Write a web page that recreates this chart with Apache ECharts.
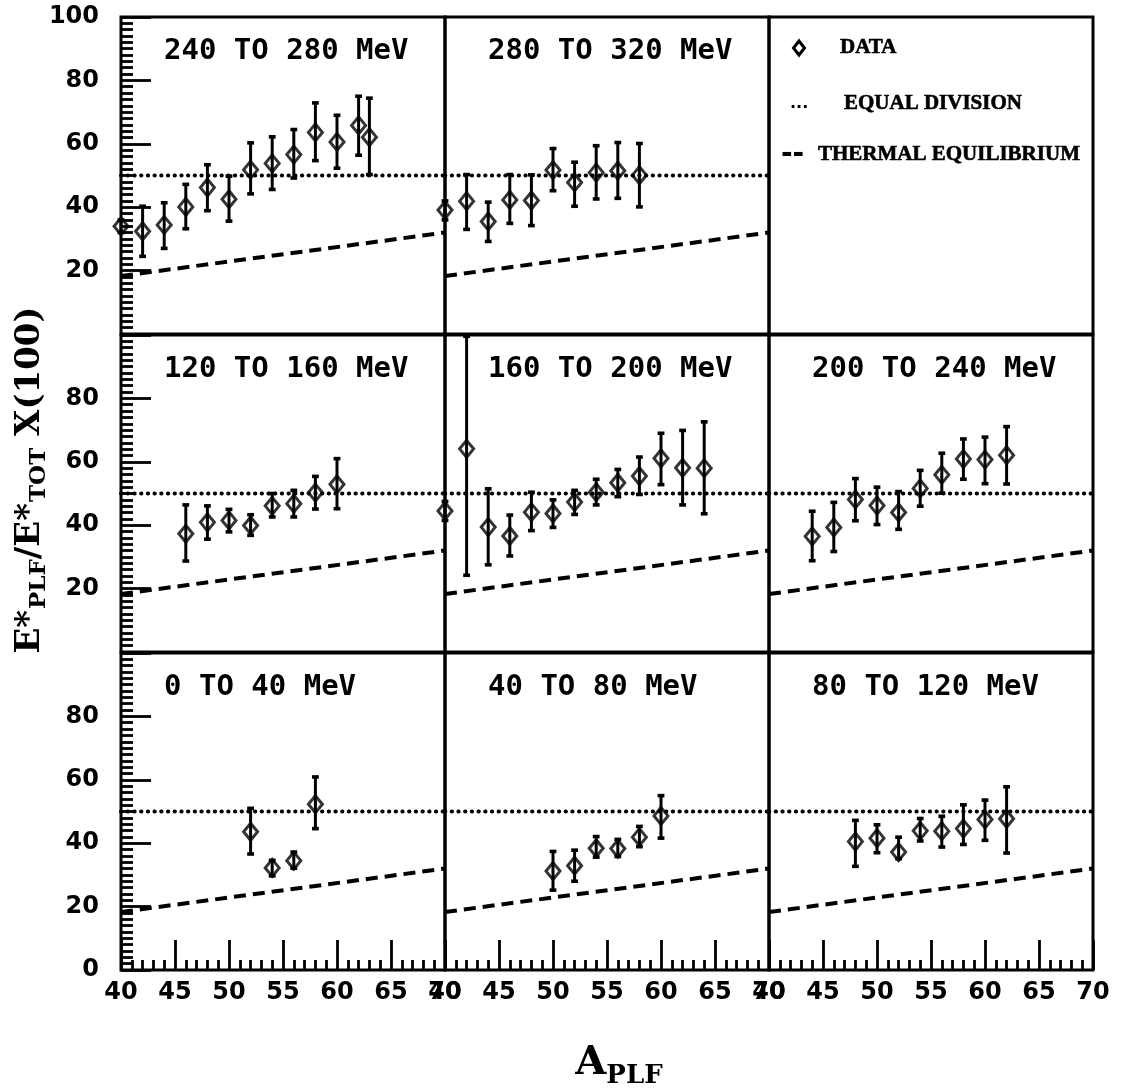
<!DOCTYPE html>
<html><head><meta charset="utf-8">
<script src="https://cdn.jsdelivr.net/npm/echarts/dist/echarts.min.js"></script>
<style>html,body{margin:0;padding:0;background:#fff}#c{width:1121px;height:1092px}</style>
</head><body><div id="c"></div>
<script>
// ---------------- DATA ----------------
// panel titles (row-major, top-left to bottom-right); index 2 is the legend panel
const panelTitles = ['240 TO 280 MeV', '280 TO 320 MeV', null,
                     '120 TO 160 MeV', '160 TO 200 MeV', '200 TO 240 MeV',
                     '0 TO 40 MeV', '40 TO 80 MeV', '80 TO 120 MeV'];
const xTickValues = [40, 45, 50, 55, 60, 65, 70];
const yTickValues = [0, 20, 40, 60, 80, 100];

// 240 TO 280 MeV
const A_240 = [40, 42, 44, 46, 48, 50, 52, 54, 56, 58, 60, 62, 63];
const V_240 = [34.0, 32.4, 34.4, 40.1, 46.2, 42.5, 51.8, 53.8, 56.6, 63.6, 60.6, 65.8, 62.1];
const LO_240 = [32.0, 24.5, 27.0, 33.2, 38.9, 35.6, 44.2, 45.6, 49.2, 54.7, 52.3, 56.4, 50.3];
const HI_240 = [36.0, 40.3, 41.4, 47.2, 53.4, 49.8, 60.3, 62.2, 64.5, 72.9, 69.0, 75.0, 74.4];
// 280 TO 320 MeV
const A_280 = [40, 42, 44, 46, 48, 50, 52, 54, 56, 58];
const V_280 = [39.1, 41.9, 35.5, 42.3, 42.1, 51.7, 47.8, 50.9, 51.5, 50.1];
const LO_280 = [36.0, 33.0, 29.2, 34.9, 34.2, 45.2, 40.3, 42.6, 42.8, 40.1];
const HI_280 = [42.0, 50.3, 41.6, 50.3, 50.2, 58.5, 54.2, 59.4, 60.4, 60.1];
// 120 TO 160 MeV
const A_120 = [46, 48, 50, 52, 54, 56, 58, 60];
const V_120 = [37.3, 40.9, 41.5, 39.9, 46.1, 46.8, 50.3, 52.9];
const LO_120 = [28.7, 35.6, 37.9, 36.8, 42.6, 42.6, 45.1, 45.2];
const HI_120 = [46.4, 46.1, 45.0, 43.3, 50.0, 51.0, 55.4, 61.0];
// 160 TO 200 MeV
const A_160 = [40, 42, 44, 46, 48, 50, 52, 54, 56, 58, 60, 62, 64];
const V_160 = [44.5, 64.1, 39.4, 36.6, 44.1, 43.7, 47.3, 50.4, 53.4, 55.5, 61.1, 58.1, 58.0];
const LO_160 = [41.5, 24.2, 27.5, 30.3, 38.3, 39.3, 43.4, 46.4, 49.0, 49.7, 52.8, 46.4, 43.6];
const HI_160 = [47.5, 99.6, 51.5, 43.2, 50.4, 48.0, 51.0, 54.5, 57.6, 61.5, 69.0, 69.9, 72.6];
// 200 TO 240 MeV
const A_200 = [44, 46, 48, 50, 52, 54, 56, 58, 60, 62];
const V_200 = [36.5, 39.3, 48.1, 46.2, 44.0, 51.6, 55.9, 60.9, 60.7, 62.1];
const LO_200 = [28.8, 31.7, 41.4, 40.2, 38.7, 46.0, 50.1, 54.5, 53.1, 53.0];
const HI_200 = [44.4, 47.2, 54.7, 52.0, 50.6, 57.3, 62.7, 67.2, 67.8, 71.1];
// 0 TO 40 MeV
const A_0 = [52, 54, 56, 58];
const V_0 = [43.6, 32.2, 34.5, 52.3];
const LO_0 = [36.6, 29.7, 32.1, 44.6];
const HI_0 = [51.0, 34.6, 37.2, 60.9];
// 40 TO 80 MeV
const A_40 = [50, 52, 54, 56, 58, 60];
const V_40 = [31.2, 32.9, 38.4, 38.3, 41.9, 48.6];
const LO_40 = [25.2, 28.0, 35.6, 35.8, 38.9, 41.6];
const HI_40 = [37.4, 37.8, 42.1, 41.2, 45.3, 55.0];
// 80 TO 120 MeV
const A_80 = [48, 50, 52, 54, 56, 58, 60, 62];
const V_80 = [40.5, 41.6, 37.2, 43.9, 43.8, 44.6, 47.5, 47.7];
const LO_80 = [32.7, 37.0, 35.1, 40.7, 38.8, 39.6, 40.9, 36.9];
const HI_80 = [47.2, 45.8, 41.9, 47.8, 48.5, 52.1, 53.6, 57.8];

// model curves
const EQUAL_A = [40, 70];
const EQUAL_V = [50, 50];
const THERMAL_A = [40, 70];
const THERMAL_V = [18.3, 32.0];

// ---------------- LAYOUT ----------------
const panelData = [
  [A_240, V_240, LO_240, HI_240], [A_280, V_280, LO_280, HI_280], null,
  [A_120, V_120, LO_120, HI_120], [A_160, V_160, LO_160, HI_160], [A_200, V_200, LO_200, HI_200],
  [A_0, V_0, LO_0, HI_0], [A_40, V_40, LO_40, HI_40], [A_80, V_80, LO_80, HI_80]
];
const GL = [121, 445, 769], GT = [17, 335, 653], GW = 324, GH = 317;
const BLACK = '#000';
const tickFont = { color: BLACK, fontSize: 24, fontWeight: 'bold', fontFamily: 'DejaVu Sans' };

const grids = [], xAxes = [], yAxes = [], series = [], graphics = [];
const zip = (a, b) => a.map((v, i) => [v, b[i]]);

for (let r = 0; r < 3; r++) for (let c = 0; c < 3; c++) {
  const k = r * 3 + c;
  const bottomRow = r === 2, leftCol = c === 0;
  grids.push({ left: GL[c], top: GT[r], width: GW, height: GH, show: true,
    borderColor: BLACK, borderWidth: 3, backgroundColor: 'transparent', outerBoundsMode: 'none' });
  xAxes.push({ gridIndex: k, type: 'value', min: 40, max: 70, interval: 5, show: k !== 2,
    axisLine: { show: false }, splitLine: { show: false },
    axisTick: { show: bottomRow, inside: true, length: 30, lineStyle: { color: BLACK, width: 2.8 } },
    minorTick: { show: bottomRow, splitNumber: 5, length: 10, lineStyle: { color: BLACK, width: 2.8 } },
    axisLabel: Object.assign({ show: bottomRow, margin: 11, showMinLabel: true, showMaxLabel: true,
      formatter: v => xTickValues.includes(v) ? String(v) : '' }, tickFont) });
  yAxes.push({ gridIndex: k, type: 'value', min: 0, max: 100, interval: 20, show: k !== 2,
    axisLine: { show: false }, splitLine: { show: false },
    axisTick: { show: leftCol, inside: true, length: 30, lineStyle: { color: BLACK, width: 2.8 } },
    minorTick: { show: leftCol, splitNumber: 10, length: 12, lineStyle: { color: BLACK, width: 2.8 } },
    axisLabel: Object.assign({ show: leftCol, margin: 22, showMinLabel: r === 2, showMaxLabel: r === 0,
      formatter: v => yTickValues.includes(v) ? String(v) : '' }, tickFont) });

  if (k === 2) continue;
  const [A, V, LO, HI] = panelData[k];
  series.push({ type: 'line', xAxisIndex: k, yAxisIndex: k, data: zip(EQUAL_A, EQUAL_V),
    symbol: 'none', silent: true, z: 2,
    lineStyle: { color: BLACK, width: 4, type: [0.3, 6.4], cap: 'round' } });
  series.push({ type: 'line', xAxisIndex: k, yAxisIndex: k, data: zip(THERMAL_A, THERMAL_V),
    symbol: 'none', silent: true, z: 2,
    lineStyle: { color: BLACK, width: 4, type: [12, 7], cap: 'butt' } });
  series.push({ type: 'custom', xAxisIndex: k, yAxisIndex: k, z: 3,
    data: A.map((a, i) => [a, LO[i], HI[i]]),
    encode: { x: 0, y: [1, 2] },
    renderItem: (params, api) => {
      const x = api.value(0);
      const p1 = api.coord([x, api.value(1)]);
      const p2 = api.coord([x, api.value(2)]);
      const w = 3.4;
      return { type: 'group', children: [
        { type: 'line', shape: { x1: p1[0], y1: p1[1], x2: p2[0], y2: p2[1] }, style: { stroke: BLACK, lineWidth: 3 } },
        { type: 'line', shape: { x1: p1[0] - w, y1: p1[1], x2: p1[0] + w, y2: p1[1] }, style: { stroke: BLACK, lineWidth: 3.6 } },
        { type: 'line', shape: { x1: p2[0] - w, y1: p2[1], x2: p2[0] + w, y2: p2[1] }, style: { stroke: BLACK, lineWidth: 3.6 } }
      ] };
    } });
  series.push({ type: 'scatter', xAxisIndex: k, yAxisIndex: k, z: 4, clip: false,
    data: zip(A, V), symbol: 'diamond', symbolSize: [14, 17],
    itemStyle: { color: 'rgba(0,0,0,0)', borderColor: BLACK, borderWidth: 3 } });

  graphics.push({ type: 'text', x: GL[c] + 43, y: GT[r] + 34, z: 10,
    style: { text: panelTitles[k], fill: BLACK, verticalAlign: 'middle',
      font: 'bold 29px "DejaVu Sans Mono"' } });
}

// legend panel (top right)
graphics.push(
  { type: 'polygon', shape: { points: [[799, 41], [804.5, 48], [799, 55], [793.5, 48]] },
    style: { fill: 'none', stroke: BLACK, lineWidth: 3 } },
  { type: 'text', x: 840, y: 48, style: { text: 'DATA', fill: BLACK, verticalAlign: 'middle', font: 'bold 21px "Liberation Serif"', stroke: BLACK, lineWidth: 0.6 } },
  { type: 'text', x: 790, y: 104, style: { text: '...', fill: BLACK, verticalAlign: 'middle', font: 'bold 16px "DejaVu Sans"' } },
  { type: 'text', x: 844, y: 104, style: { text: 'EQUAL DIVISION', fill: BLACK, verticalAlign: 'middle', font: 'bold 21px "Liberation Serif"', stroke: BLACK, lineWidth: 0.6 } },
  { type: 'text', x: 781, y: 155, style: { text: '--', fill: BLACK, verticalAlign: 'middle', font: 'bold 28px "DejaVu Sans"' } },
  { type: 'text', x: 818, y: 155, style: { text: 'THERMAL EQUILIBRIUM', fill: BLACK, verticalAlign: 'middle', font: 'bold 21px "Liberation Serif"', stroke: BLACK, lineWidth: 0.6 } }
);

// axis titles
graphics.push({ type: 'text', x: 30, y: 480, rotation: Math.PI / 2,
  style: { text: '{m|E*}{s|PLF}{m|/E*}{s|TOT}{m| X(100)}', align: 'center', verticalAlign: 'middle',
    rich: {
      m: { fontSize: 34, fontWeight: 'bold', fontFamily: 'DejaVu Serif', lineHeight: 34, fill: BLACK, verticalAlign: 'middle' },
      s: { fontSize: 23, fontWeight: 'bold', fontFamily: 'DejaVu Serif', lineHeight: 23, padding: [18, 0, 0, 1], fill: BLACK, verticalAlign: 'middle' }
    } } });
graphics.push({ type: 'text', x: 619, y: 1064,
  style: { text: '{m|A}{s|PLF}', align: 'center', verticalAlign: 'middle',
    rich: {
      m: { fontSize: 40, fontWeight: 'bold', fontFamily: 'DejaVu Serif', lineHeight: 40, fill: BLACK, verticalAlign: 'middle' },
      s: { fontSize: 26, fontWeight: 'bold', fontFamily: 'DejaVu Serif', lineHeight: 26, padding: [24, 0, 0, 0], fill: BLACK, verticalAlign: 'middle' }
    } } });

const chart = echarts.init(document.getElementById('c'), null, { renderer: 'canvas' });
chart.setOption({
  animation: false,
  backgroundColor: '#fff',
  grid: grids, xAxis: xAxes, yAxis: yAxes, series: series, graphic: graphics
});
</script></body></html>
